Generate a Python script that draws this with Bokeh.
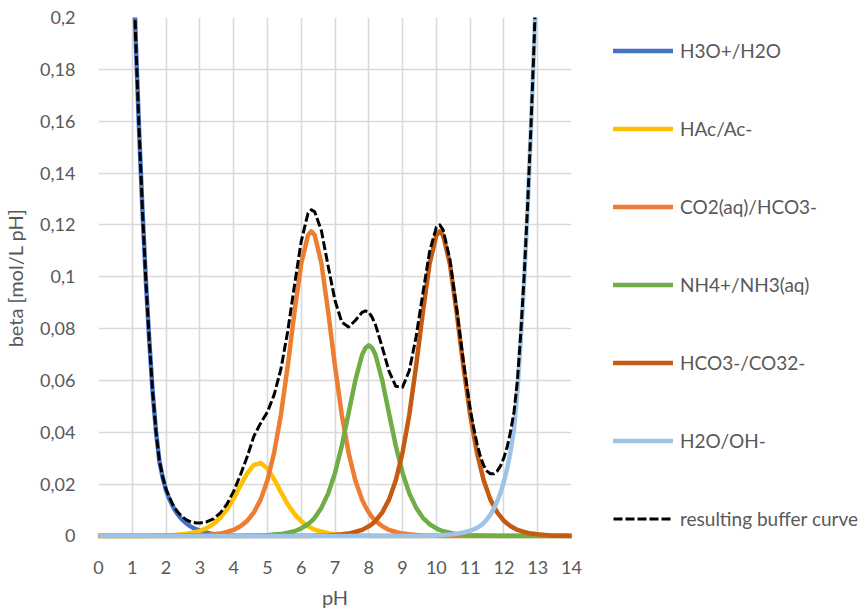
from bokeh.plotting import figure
from bokeh.layouts import row
from bokeh.models import Range1d, FixedTicker, Legend, LegendItem
from bokeh.embed import file_html
from bokeh.resources import INLINE

# ---- data: buffer capacity beta [mol/L pH] versus pH ----
# common pH grid (step 0.2, refined at the maxima) for the four acid/base pairs
ph_grid = [0.0, 0.2, 0.4, 0.6, 0.8, 1.0, 1.2, 1.4, 1.6, 1.8,
           2.0, 2.2, 2.4, 2.6, 2.8, 3.0, 3.2, 3.4, 3.6, 3.8,
           4.0, 4.2, 4.4, 4.6, 4.8, 5.0, 5.2, 5.4, 5.6, 5.8,
           6.0, 6.2, 6.3, 6.4, 6.6, 6.8, 7.0, 7.2, 7.4, 7.6, 7.8, 7.9,
           8.0, 8.1, 8.2, 8.4, 8.6, 8.8, 9.0, 9.2, 9.4, 9.6, 9.8,
           10.0, 10.1, 10.2, 10.4, 10.6, 10.8, 11.0, 11.2, 11.4, 11.6, 11.8,
           12.0, 12.2, 12.4, 12.6, 12.8, 13.0, 13.2, 13.4, 13.6, 13.8,
           14.0]

beta_hac = [0, 0, 0, 0, 0, 0, 0, 0, 0.0001, 0.0001,
            0.0002, 0.0003, 0.0005, 0.0008, 0.0012, 0.0019, 0.0030, 0.0046, 0.0070, 0.0102,
            0.0145, 0.0194, 0.0241, 0.0274, 0.0281, 0.0260, 0.0218, 0.0169, 0.0122, 0.0085,
            0.0057, 0.0037, 0.0030, 0.0024, 0.0016, 0.0010, 0.0006, 0.0004, 0.0003, 0.0002, 0.0001, 0.0001,
            0.0001, 0, 0, 0, 0, 0, 0, 0, 0, 0, 0,
            0, 0, 0, 0, 0, 0, 0, 0, 0, 0, 0,
            0, 0, 0, 0, 0, 0, 0, 0, 0, 0,
            0]

beta_co2 = [0, 0, 0, 0, 0, 0, 0, 0, 0, 0,
            0, 0, 0, 0.0001, 0.0001, 0.0002, 0.0004, 0.0006, 0.0009, 0.0015,
            0.0023, 0.0037, 0.0058, 0.0091, 0.0140, 0.0215, 0.0322, 0.0468, 0.0655, 0.0863,
            0.1050, 0.1160, 0.1175, 0.1160, 0.1050, 0.0863, 0.0655, 0.0468, 0.0322, 0.0215, 0.0140, 0.0113,
            0.0091, 0.0072, 0.0058, 0.0037, 0.0023, 0.0015, 0.0009, 0.0006, 0.0004, 0.0002, 0.0001,
            0.0001, 0, 0, 0, 0, 0, 0, 0, 0, 0, 0,
            0, 0, 0, 0, 0, 0, 0, 0, 0, 0,
            0]

beta_nh4 = [0, 0, 0, 0, 0, 0, 0, 0, 0, 0,
            0, 0, 0, 0, 0, 0, 0, 0, 0, 0,
            0, 0, 0.0001, 0.0001, 0.0002, 0.0003, 0.0005, 0.0007, 0.0012, 0.0018,
            0.0029, 0.0045, 0.0056, 0.0070, 0.0109, 0.0164, 0.0243, 0.0347, 0.0472, 0.0599, 0.0698, 0.0725,
            0.0735, 0.0725, 0.0698, 0.0599, 0.0472, 0.0347, 0.0243, 0.0164, 0.0109, 0.0070, 0.0045,
            0.0029, 0.0023, 0.0018, 0.0012, 0.0007, 0.0005, 0.0003, 0.0002, 0.0001, 0.0001, 0,
            0, 0, 0, 0, 0, 0, 0, 0, 0, 0,
            0]

beta_hco3 = [0, 0, 0, 0, 0, 0, 0, 0, 0, 0,
             0, 0, 0, 0, 0, 0, 0, 0, 0, 0,
             0, 0, 0, 0, 0, 0, 0, 0, 0, 0,
             0, 0, 0, 0.0001, 0.0001, 0.0002, 0.0004, 0.0006, 0.0009, 0.0015, 0.0023, 0.0030,
             0.0037, 0.0046, 0.0058, 0.0091, 0.0140, 0.0215, 0.0322, 0.0468, 0.0655, 0.0863, 0.1050,
             0.1160, 0.1175, 0.1160, 0.1050, 0.0863, 0.0655, 0.0468, 0.0322, 0.0215, 0.0140, 0.0091,
             0.0058, 0.0037, 0.0023, 0.0015, 0.0009, 0.0006, 0.0004, 0.0002, 0.0001, 0.0001,
             0]

# water itself: H3O+/H2O at low pH, H2O/OH- at high pH
ph_acid = [1.0, 1.1, 1.2, 1.3, 1.4, 1.5, 1.6, 1.7, 1.8, 1.9,
           2.0, 2.1, 2.2, 2.3, 2.4, 2.5, 2.6, 2.7, 2.8, 2.9,
           3.0, 3.2, 3.4, 3.6, 3.8, 4.0, 14.0]
beta_h3o = [0.236, 0.192, 0.157, 0.126, 0.099, 0.076, 0.056, 0.0405, 0.0290, 0.0225,
            0.0175, 0.0142, 0.0114, 0.0092, 0.0074, 0.0060, 0.0048, 0.0039, 0.0031, 0.0025,
            0.0020, 0.0012, 0.0007, 0.0003, 0.0001, 0.0, 0.0]

ph_base = [0.0, 9.6, 9.8, 10.0, 10.2, 10.4, 10.6, 10.8,
           11.0, 11.1, 11.2, 11.3, 11.4, 11.5, 11.6, 11.7, 11.8, 11.9,
           12.0, 12.1, 12.2, 12.3, 12.4, 12.5, 12.6, 12.7, 12.8, 12.9, 13.0]
beta_oh = [0.0, 0.0, 0.0001, 0.0002, 0.0003, 0.0005, 0.0008, 0.0013,
           0.0020, 0.0025, 0.0031, 0.0039, 0.0050, 0.0064, 0.0082, 0.0105, 0.0133, 0.0167,
           0.0210, 0.0262, 0.0328, 0.0415, 0.056, 0.076, 0.099, 0.126, 0.157, 0.192, 0.236]

# overall buffer curve of the mixture
ph_total = [1.0, 1.1, 1.2, 1.3, 1.4, 1.5, 1.6, 1.7, 1.8, 1.9,
            2.0, 2.1, 2.2, 2.3, 2.4, 2.5, 2.6, 2.7, 2.8, 2.9, 3.0,
            3.2, 3.4, 3.6, 3.8, 4.0, 4.2, 4.4, 4.6, 4.8, 5.0,
            5.2, 5.4, 5.6, 5.8, 6.0, 6.2, 6.3, 6.4, 6.6, 6.8, 7.0,
            7.2, 7.4, 7.6, 7.8, 7.9, 8.0, 8.1, 8.2, 8.4, 8.6, 8.8, 9.0,
            9.2, 9.4, 9.6, 9.8, 10.0, 10.1, 10.2, 10.4, 10.6, 10.8,
            11.0, 11.1, 11.2, 11.3, 11.4, 11.5, 11.6, 11.7, 11.8, 11.9,
            12.0, 12.1, 12.2, 12.3, 12.4, 12.5, 12.6, 12.7, 12.8, 12.9, 13.0]
beta_total = [0.236, 0.192, 0.157, 0.126, 0.099, 0.076, 0.056, 0.0406, 0.0292, 0.0228,
              0.0180, 0.0148, 0.0121, 0.0100, 0.0084, 0.0072, 0.0062, 0.0056, 0.0052, 0.0050, 0.0050,
              0.0054, 0.0066, 0.0088, 0.0122, 0.0172, 0.0235, 0.0305, 0.0385, 0.0435, 0.0478,
              0.0545, 0.0644, 0.0789, 0.0966, 0.1136, 0.1244, 0.1258, 0.1250, 0.1176, 0.1039, 0.0908,
              0.0825, 0.0806, 0.0831, 0.0862, 0.0868, 0.0864, 0.0843, 0.0814, 0.0727, 0.0635, 0.0577, 0.0574,
              0.0638, 0.0768, 0.0935, 0.1097, 0.1191, 0.1200, 0.1181, 0.1067, 0.0878, 0.0673,
              0.0491, 0.0420, 0.0358, 0.0308, 0.0272, 0.0250, 0.0240, 0.0240, 0.0250, 0.0270,
              0.0302, 0.0345, 0.0405, 0.0480, 0.0600, 0.0785, 0.1005, 0.1272, 0.1579, 0.1927, 0.2366]

series_names = ["H3O+/H2O", "HAc/Ac-", "CO2(aq)/HCO3-", "NH4+/NH3(aq)",
                "HCO3-/CO32-", "H2O/OH-", "resulting buffer curve"]

x_ticks = [0, 1, 2, 3, 4, 5, 6, 7, 8, 9, 10, 11, 12, 13, 14]
y_ticks = [0, 0.02, 0.04, 0.06, 0.08, 0.1, 0.12, 0.14, 0.16, 0.18, 0.2]
y_tick_labels = ["0", "0,02", "0,04", "0,06", "0,08", "0,1",
                 "0,12", "0,14", "0,16", "0,18", "0,2"]

# ---- styling ----
FONT = "Lato"
TEXT = "#595959"
GRID = "#D9D9D9"
colors = ["#4472C4", "#FFC000", "#ED7D31", "#70AD47", "#C55A11", "#9DC3E6", "#000000"]
solid = dict(line_width=4.5, line_cap="round", line_join="round")
dashed = dict(line_width=3, line_dash="9 3", line_join="round")

p = figure(width=591, height=611, output_backend="svg", toolbar_location=None,
           x_range=Range1d(0, 14), y_range=Range1d(-0.001, 0.2),
           min_border_left=98, min_border_right=20,
           min_border_top=17, min_border_bottom=70)
p.outline_line_color = None
p.background_fill_color = "white"
p.border_fill_color = "white"

p.xaxis.ticker = FixedTicker(ticks=x_ticks)
p.yaxis.ticker = FixedTicker(ticks=y_ticks)
p.yaxis.major_label_overrides = {t: s for t, s in zip(y_ticks, y_tick_labels)}
p.xgrid.ticker = FixedTicker(ticks=x_ticks)
p.ygrid.ticker = FixedTicker(ticks=y_ticks)
for g in (p.xgrid, p.ygrid):
    g.grid_line_color = GRID
    g.grid_line_width = 1.6

for ax in (p.xaxis, p.yaxis):
    ax.axis_line_color = None
    ax.major_tick_line_color = None
    ax.minor_tick_line_color = None
    ax.major_label_text_color = TEXT
    ax.major_label_text_font = FONT
    ax.major_label_text_font_size = "18px"
    ax.axis_label_text_color = TEXT
    ax.axis_label_text_font = FONT
    ax.axis_label_text_font_size = "20px"
    ax.axis_label_text_font_style = "normal"

p.xaxis.axis_label = "pH"
p.yaxis.axis_label = "beta [mol/L pH]"
p.xaxis.major_label_standoff = 16
p.yaxis.major_label_standoff = 17
p.xaxis.axis_label_standoff = 8
p.yaxis.axis_label_standoff = 10

# ---- curves (drawn in series order, buffer curve on top) ----
data = [(ph_acid, beta_h3o), (ph_grid, beta_hac), (ph_grid, beta_co2),
        (ph_grid, beta_nh4), (ph_grid, beta_hco3), (ph_base, beta_oh)]
for (xs, ys), c in zip(data, colors[:6]):
    p.line(xs, ys, line_color=c, **solid)
p.line(ph_total, beta_total, line_color=colors[6], **dashed)

# ---- legend panel to the right of the plot area ----
lg = figure(width=271, height=611, output_backend="svg", toolbar_location=None,
            x_range=Range1d(0, 1), y_range=Range1d(0, 1),
            min_border_left=0, min_border_right=0, min_border_top=17, min_border_bottom=70)
lg.axis.visible = False
lg.grid.visible = False
lg.outline_line_color = None
lg.border_fill_color = "white"
lg.background_fill_color = "white"

# key swatches only: each holds a single undrawable (NaN) point
nan = float("nan")
keys = []
for i, c in enumerate(colors):
    style = dashed if i == 6 else solid
    keys.append(lg.line([nan], [nan], line_color=c, **style))

legend = Legend(items=[LegendItem(label=n, renderers=[r]) for n, r in zip(series_names, keys)],
                location="top_left", orientation="vertical",
                glyph_width=60, glyph_height=23, label_height=23,
                label_standoff=7, spacing=55, padding=0, margin=22,
                border_line_color=None, background_fill_alpha=0,
                label_text_font=FONT, label_text_font_size="19px",
                label_text_color=TEXT)
lg.add_layout(legend, "center")

layout = row(p, lg, spacing=0)
open("out.html", "w").write(file_html(layout, INLINE))
